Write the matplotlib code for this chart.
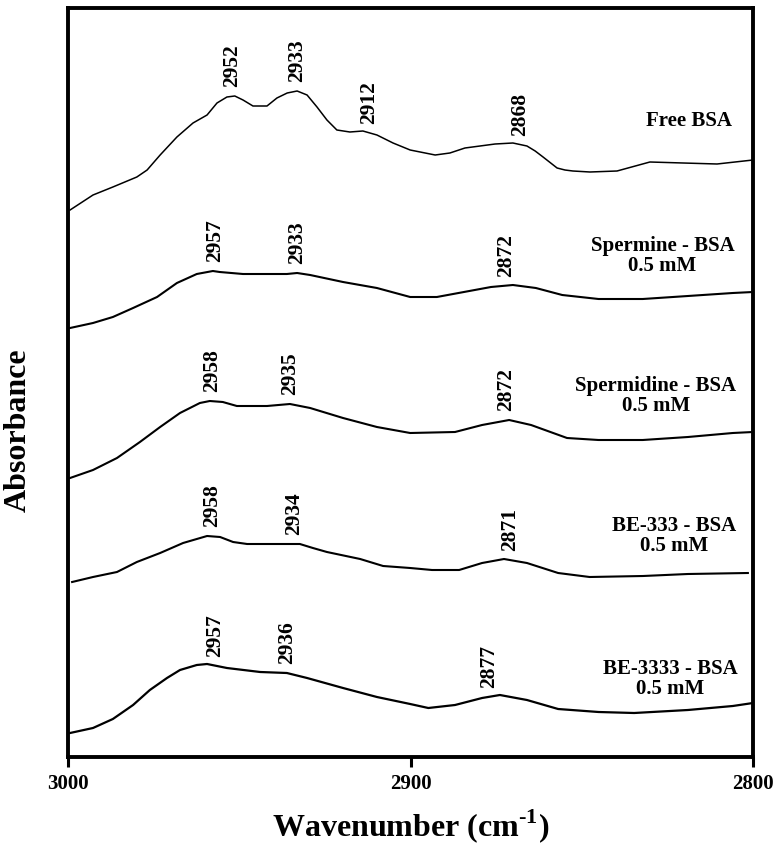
import numpy as np
import matplotlib
matplotlib.use('Agg')
import matplotlib.pyplot as plt

plt.rcParams['font.family'] = ['Liberation Serif', 'DejaVu Serif']
plt.rcParams['font.weight'] = 'bold'
plt.rcParams['mathtext.fontset'] = 'custom'
plt.rcParams['mathtext.rm'] = 'Liberation Serif:bold'
plt.rcParams['mathtext.bf'] = 'Liberation Serif:bold'

# spectra (wavenumber, stacked absorbance a.u.)
free_wn = [2999.4, 2992.7, 2986.9, 2979.9, 2976.9, 2973.1, 2968.2, 2963.5, 2959.4, 2956.5,
           2953.6, 2951.3, 2948.9, 2946.0, 2941.9, 2939.0, 2936.0, 2933.1, 2930.2, 2927.3,
           2924.4, 2921.5, 2917.7, 2913.9, 2909.8, 2905.1, 2900.1, 2892.8, 2888.5, 2884.1,
           2879.7, 2875.3, 2870.1, 2866.0, 2863.6, 2861.3, 2857.2, 2854.9, 2852.6, 2847.6,
           2839.7, 2830.1, 2820.4, 2810.5, 2800.0]
free_abs = [0.547, 0.562, 0.570, 0.580, 0.587, 0.602, 0.620, 0.634, 0.642, 0.654,
            0.660, 0.661, 0.657, 0.651, 0.651, 0.659, 0.664, 0.666, 0.662, 0.650,
            0.637, 0.627, 0.625, 0.626, 0.622, 0.614, 0.607, 0.602, 0.604, 0.609,
            0.611, 0.613, 0.614, 0.611, 0.606, 0.600, 0.589, 0.587, 0.586, 0.585,
            0.586, 0.595, 0.594, 0.593, 0.597]

spm_wn = [2999.4, 2992.7, 2986.9, 2981.0, 2974.0, 2968.2, 2962.4, 2957.7, 2955.7, 2948.9,
          2936.1, 2933.1, 2929.3, 2919.7, 2909.8, 2900.1, 2892.3, 2884.4, 2876.5, 2870.1,
          2863.4, 2855.7, 2845.1, 2832.2, 2819.0, 2805.9, 2800.0]
spm_abs = [0.429, 0.434, 0.440, 0.449, 0.460, 0.474, 0.483, 0.486, 0.485, 0.483,
           0.483, 0.484, 0.482, 0.475, 0.469, 0.460, 0.460, 0.465, 0.470, 0.472,
           0.469, 0.462, 0.458, 0.458, 0.461, 0.464, 0.465]

spd_wn = [2999.4, 2992.7, 2985.7, 2979.0, 2973.1, 2967.3, 2961.5, 2958.6, 2954.8, 2950.7,
          2941.9, 2935.2, 2929.3, 2919.7, 2909.8, 2900.1, 2887.0, 2879.1, 2871.2, 2864.8,
          2854.3, 2845.1, 2832.2, 2819.0, 2805.9, 2800.0]
spd_abs = [0.279, 0.287, 0.299, 0.315, 0.330, 0.344, 0.354, 0.356, 0.355, 0.351,
           0.351, 0.353, 0.349, 0.339, 0.330, 0.324, 0.325, 0.332, 0.337, 0.332,
           0.319, 0.317, 0.317, 0.320, 0.324, 0.325]

be3_wn = [2998.8, 2992.7, 2985.7, 2979.9, 2973.1, 2966.4, 2959.4, 2955.6, 2951.8, 2947.7,
          2932.3, 2928.5, 2924.4, 2914.7, 2908.0, 2900.1, 2893.7, 2885.8, 2879.1, 2872.7,
          2866.0, 2856.9, 2847.7, 2832.1, 2819.0, 2801.5]
be3_abs = [0.175, 0.180, 0.185, 0.195, 0.204, 0.214, 0.221, 0.220, 0.215, 0.213,
           0.213, 0.209, 0.205, 0.198, 0.191, 0.189, 0.187, 0.187, 0.194, 0.198,
           0.194, 0.184, 0.180, 0.181, 0.183, 0.184]

be4_wn = [2999.4, 2992.7, 2986.9, 2981.0, 2976.1, 2971.1, 2967.3, 2962.4, 2959.4, 2953.6,
          2943.9, 2936.1, 2930.2, 2919.7, 2909.8, 2900.1, 2894.8, 2887.0, 2879.1, 2873.9,
          2866.0, 2856.9, 2845.1, 2834.7, 2819.0, 2805.9, 2800.0]
be4_abs = [0.024, 0.029, 0.038, 0.052, 0.067, 0.079, 0.087, 0.092, 0.093, 0.089,
           0.085, 0.084, 0.079, 0.069, 0.060, 0.053, 0.049, 0.052, 0.059, 0.062,
           0.057, 0.048, 0.045, 0.044, 0.047, 0.051, 0.054]

names = ['Free BSA', 'Spermine - BSA\n0.5 mM', 'Spermidine - BSA\n0.5 mM',
         'BE-333 - BSA\n0.5 mM', 'BE-3333 - BSA\n0.5 mM']
peaks = [[2952, 2933, 2912, 2868],
         [2957, 2933, 2872],
         [2958, 2935, 2872],
         [2958, 2934, 2871],
         [2957, 2936, 2877]]

series = [(free_wn, free_abs), (spm_wn, spm_abs), (spd_wn, spd_abs),
          (be3_wn, be3_abs), (be4_wn, be4_abs)]
widths = [1.1, 1.5, 1.5, 1.5, 1.6]
name_pos = [(2818.7, 0.6365), (2826.4, 0.501), (2828.4, 0.361),
            (2822.9, 0.221), (2824.1, 0.078)]

fig = plt.figure(figsize=(7.8, 8.48), dpi=100)
ax = fig.add_axes([68 / 780, 1 - 757 / 848, 685 / 780, 749 / 848])

for (wn, ab), lw, name, pk, pos in zip(series, widths, names, peaks, name_pos):
    ax.plot(wn, ab, color='black', lw=lw)
    order = np.argsort(wn)
    for p in pk:
        yv = np.interp(p, np.array(wn)[order], np.array(ab)[order])
        ax.annotate(str(p), (p, yv), xytext=(0, 6.5), textcoords='offset points',
                    rotation=90, ha='center', va='bottom', fontsize=15.5,
                    fontweight='bold')
    ax.text(pos[0], pos[1], name, ha='center', va='center', multialignment='center',
            fontsize=15, fontweight='bold', linespacing=1.0)

ax.set_xlim(3000, 2800)
ax.set_ylim(0, 0.749)
ax.set_xticks([3000, 2900, 2800])
ax.set_yticks([])
ax.tick_params(axis='x', direction='out', length=7, width=2.2, pad=5, labelsize=15)
for lab in ax.get_xticklabels():
    lab.set_fontweight('bold')
for sp in ax.spines.values():
    sp.set_linewidth(2.8)

ax.set_xlabel(r'Wavenumber (cm$^{\text{-}1}$)', fontsize=23, fontweight='bold', labelpad=10)
ax.set_ylabel('Absorbance', fontsize=23, fontweight='bold')
ax.yaxis.set_label_coords(-0.051, 0.4366)

fig.savefig('out.png', dpi=100)
